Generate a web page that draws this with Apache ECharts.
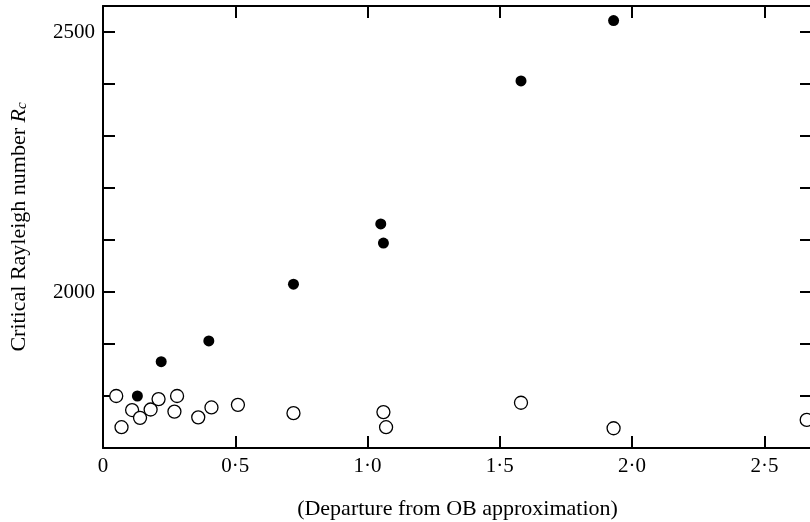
<!DOCTYPE html>
<html>
<head>
<meta charset="utf-8">
<script src="https://cdn.jsdelivr.net/npm/echarts@6/dist/echarts.min.js"></script>
<style>
  html, body { margin: 0; padding: 0; background: #fff; }
  #main { width: 810px; height: 522px; }
</style>
</head>
<body>
<div id="main"></div>
<script>
// 实心点 (filled circles)
var filledX = [0.13, 0.22, 0.40, 0.72, 1.05, 1.06, 1.58, 1.93];
var filledY = [1800, 1866, 1906, 2015, 2131, 2094, 2406, 2522];
// 空心点 (open circles)
var openX = [0.05, 0.07, 0.11, 0.14, 0.18, 0.21, 0.27, 0.28, 0.36, 0.41, 0.51, 0.72, 1.06, 1.07, 1.58, 1.93, 2.66];
var openY = [1800, 1740, 1773, 1758, 1774, 1794, 1770, 1800, 1759, 1778, 1783, 1767, 1769, 1740, 1787, 1738, 1754];
// 刻度标签
var xTicks = [0, 0.5, 1.0, 1.5, 2.0, 2.5];
var yLabels = [2000, 2500];

function pairs(xs, ys) {
    return xs.map(function (x, i) { return [x, ys[i]]; });
}

var font = 'Liberation Serif';
var axisLine = { show: true, onZero: false, lineStyle: { color: '#000', width: 2 } };
var axisTick = { show: true, inside: true, length: 12, lineStyle: { color: '#000', width: 2 } };

var chartDom = document.getElementById('main');
var myChart = echarts.init(chartDom);

var option = {
    animation: false,
    backgroundColor: '#fff',
    grid: { left: 103, top: 6, right: -2, bottom: 74, containLabel: false, outerBoundsMode: 'none' },
    xAxis: [
        {
            type: 'value', position: 'bottom', min: 0, max: 2.68, interval: 0.5,
            splitLine: { show: false },
            axisLine: axisLine, axisTick: axisTick,
            axisLabel: {
                color: '#000', fontFamily: font, fontSize: 21, margin: 8, showMaxLabel: false,
                formatter: function (v) {
                    var hit = xTicks.filter(function (t) { return Math.abs(t - v) < 1e-6; });
                    if (!hit.length) return '';
                    return v === 0 ? '0' : v.toFixed(1).replace('.', '·');
                }
            },
            name: '(Departure from OB approximation)',
            nameLocation: 'middle', nameGap: 50,
            nameTextStyle: { color: '#000', fontFamily: font, fontSize: 22 }
        },
        {
            type: 'value', position: 'top', min: 0, max: 2.68, interval: 0.5,
            splitLine: { show: false },
            axisLine: axisLine, axisTick: axisTick,
            axisLabel: { show: false }
        }
    ],
    yAxis: [
        {
            type: 'value', position: 'left', min: 1700, max: 2550, interval: 100,
            splitLine: { show: false },
            axisLine: axisLine, axisTick: axisTick,
            axisLabel: {
                color: '#000', fontFamily: font, fontSize: 21, margin: 8,
                formatter: function (v) { return yLabels.indexOf(v) >= 0 ? String(v) : ''; }
            },
            name: '{n|Critical Rayleigh number }{i|R}{s|c}',
            nameLocation: 'middle', nameGap: 73, nameRotate: 90,
            nameTextStyle: {
                color: '#000', fontFamily: font, fontSize: 22,
                rich: {
                    n: { color: '#000', fontFamily: font, fontSize: 22 },
                    i: { color: '#000', fontFamily: font, fontSize: 22, fontStyle: 'italic' },
                    s: { color: '#000', fontFamily: font, fontSize: 15, fontStyle: 'italic', verticalAlign: 'bottom', lineHeight: 15, padding: [9, 0, 0, 0] }
                }
            }
        },
        {
            type: 'value', position: 'right', min: 1700, max: 2550, interval: 100,
            splitLine: { show: false },
            axisLine: axisLine, axisTick: axisTick,
            axisLabel: { show: false }
        }
    ],
    series: [
        {
            name: 'open', type: 'scatter', xAxisIndex: 0, yAxisIndex: 0,
            symbol: 'circle', symbolSize: 13,
            itemStyle: { color: '#fff', borderColor: '#000', borderWidth: 1.3, opacity: 1 },
            data: pairs(openX, openY)
        },
        {
            name: 'filled', type: 'scatter', xAxisIndex: 0, yAxisIndex: 0,
            symbol: 'circle', symbolSize: 11,
            itemStyle: { color: '#000', opacity: 1 },
            data: pairs(filledX, filledY)
        }
    ]
};

myChart.setOption(option);
</script>
</body>
</html>
